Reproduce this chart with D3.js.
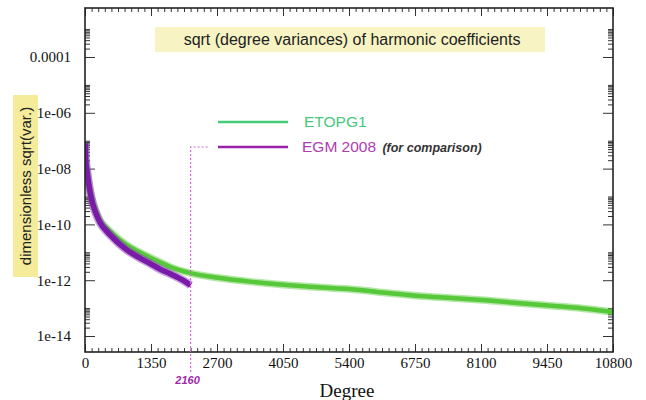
<!DOCTYPE html>
<html><head><meta charset="utf-8">
<script src="https://cdn.jsdelivr.net/npm/d3@7"></script>
<style>body{margin:0;background:#fff}svg{display:block}</style>
</head><body>
<svg id="c" width="646" height="400"></svg>
<script>
// ---- data ----
const etopoDeg = [2, 15, 41, 102, 164, 245, 307, 450, 573, 716, 859, 1100, 1350, 1534, 1740, 2160, 2760, 3375, 4400, 5400, 6200, 6850, 7500, 8200, 8900, 9600, 10300, 10800];
const etopoVal = [8e-8, 2.2e-8, 8.9e-9, 1.7e-9, 5.9e-10, 2.4e-10, 1.4e-10, 7.2e-11, 4.5e-11, 2.75e-11, 1.8e-11, 1.05e-11, 6.3e-12, 4.4e-12, 3.0e-12, 1.8e-12, 1.2e-12, 8.9e-13, 6.2e-13, 4.8e-13, 3.5e-13, 2.7e-13, 2.3e-13, 1.9e-13, 1.5e-13, 1.2e-13, 9.3e-14, 7.2e-14];
const egmDeg = [2, 15, 41, 102, 164, 245, 307, 450, 573, 716, 859, 1100, 1350, 1534, 1740, 2000, 2160];
const egmVal = [8e-8, 2.0e-8, 8.0e-9, 1.5e-9, 5.0e-10, 2.0e-10, 1.17e-10, 5.5e-11, 3.3e-11, 1.9e-11, 1.2e-11, 6.6e-12, 3.8e-12, 2.5e-12, 1.7e-12, 1.0e-12, 6.6e-13];
const xTickValues = [0, 1350, 2700, 4050, 5400, 6750, 8100, 9450, 10800];
const yTickValues = [1e-14, 1e-12, 1e-10, 1e-8, 1e-6, 1e-4];
const yTickLabels = ["1e-14", "1e-12", "1e-10", "1e-08", "1e-06", "0.0001"];
const cutoffDegree = 2160;
const seriesNames = ["ETOPG1", "EGM 2008"];
const titleText = "sqrt (degree variances) of harmonic coefficients";
const yLabelText = "dimensionless sqrt(var.)";
const xLabelText = "Degree";

// ---- layout ----
const L = 85, R = 613, T = 8, B = 352;
const svg = d3.select("#c");
const x = d3.scaleLinear().domain([0, 10800]).range([L, R]);
const y = d3.scaleLog().domain([Math.pow(10, -14.573), Math.pow(10, -2.244)]).range([B, T]);

const serif = "'Liberation Serif','Times New Roman',serif";
const sans = "'Liberation Sans',Arial,sans-serif";

// title box
svg.append("rect").attr("x", 155).attr("y", 27).attr("width", 390).attr("height", 25).attr("fill", "#f7f3c2");
svg.append("text").attr("x", 352).attr("y", 45).attr("text-anchor", "middle")
  .attr("font-family", sans).attr("font-size", 16).attr("fill", "#222").text(titleText);

// y label box
svg.append("rect").attr("x", 13).attr("y", 95).attr("width", 25).attr("height", 182).attr("fill", "#f4ec9a");
svg.append("text").attr("transform", "translate(31,186) rotate(-90)").attr("text-anchor", "middle")
  .attr("font-family", sans).attr("font-size", 15).attr("fill", "#222").text(yLabelText);

// minor ticks
const xMinor = d3.range(0, 10801, 135).filter(d => d % 1350 !== 0);
const yMinor = [];
[-14, -12, -10, -8, -6, -4].forEach(k => { for (let m = 2; m <= 10; m++) yMinor.push(m * Math.pow(10, k)); });
const yMinorIn = yMinor.filter(v => y(v) >= T && y(v) <= B);

function styleAxis(g) {
  g.select(".domain").remove();
  g.selectAll("line").attr("stroke", "#333").attr("stroke-width", 1);
}
// bottom
svg.append("g").attr("transform", `translate(0,${B})`).call(d3.axisBottom(x).tickValues(xMinor).tickSize(-4).tickFormat("")).call(styleAxis);
svg.append("g").attr("transform", `translate(0,${B})`).call(d3.axisBottom(x).tickValues(xTickValues).tickSize(-8).tickPadding(5).tickFormat(d3.format("d")))
  .call(styleAxis).call(g => g.selectAll("text").attr("font-family", serif).attr("font-size", 15).attr("fill", "#111"));
// top
svg.append("g").attr("transform", `translate(0,${T})`).call(d3.axisTop(x).tickValues(xMinor).tickSize(-4).tickFormat("")).call(styleAxis);
svg.append("g").attr("transform", `translate(0,${T})`).call(d3.axisTop(x).tickValues(xTickValues).tickSize(-8).tickFormat("")).call(styleAxis);
// left
svg.append("g").attr("transform", `translate(${L},0)`).call(d3.axisLeft(y).tickValues(yMinorIn).tickSize(-5).tickFormat("")).call(styleAxis);
svg.append("g").attr("transform", `translate(${L},0)`).call(d3.axisLeft(y).tickValues(yTickValues).tickSize(-10).tickPadding(14).tickFormat((d, i) => yTickLabels[i]))
  .call(styleAxis).call(g => g.selectAll("text").attr("font-family", serif).attr("font-size", 15).attr("fill", "#111"));
// right
svg.append("g").attr("transform", `translate(${R},0)`).call(d3.axisRight(y).tickValues(yMinorIn).tickSize(-5).tickFormat("")).call(styleAxis);
svg.append("g").attr("transform", `translate(${R},0)`).call(d3.axisRight(y).tickValues(yTickValues).tickSize(-10).tickFormat("")).call(styleAxis);

// series
const line = d3.line().x(d => x(d[0])).y(d => y(d[1])).curve(d3.curveMonotoneX);
svg.append("clipPath").attr("id", "pc").append("rect").attr("x", L).attr("y", T).attr("width", R - L).attr("height", B - T);
const plot = svg.append("g").attr("clip-path", "url(#pc)");
const gData = etopoDeg.map((d, i) => [d, etopoVal[i]]);
const pData = egmDeg.map((d, i) => [d, egmVal[i]]);
plot.append("path").datum(gData).attr("d", line).attr("fill", "none").attr("stroke", "#5ccb3e").attr("stroke-opacity", 0.45).attr("stroke-width", 7.5);
plot.append("path").datum(gData).attr("d", line).attr("fill", "none").attr("stroke", "#56c83a").attr("stroke-width", 4.5);
plot.append("path").datum(pData).attr("d", line).attr("fill", "none").attr("stroke", "#8a2cbc").attr("stroke-opacity", 0.45).attr("stroke-width", 8.5);
plot.append("path").datum(pData).attr("d", line).attr("fill", "none").attr("stroke", "#7a1aa8").attr("stroke-width", 5.5);

// frame
svg.append("rect").attr("x", L).attr("y", T).attr("width", R - L).attr("height", B - T)
  .attr("fill", "none").attr("stroke", "#222").attr("stroke-width", 1.6);

// legend
const legY1 = 122, legY2 = 147;
svg.append("line").attr("x1", 218).attr("x2", 288).attr("y1", legY1).attr("y2", legY1).attr("stroke", "#46cc78").attr("stroke-width", 2.5);
svg.append("line").attr("x1", 218).attr("x2", 288).attr("y1", legY2).attr("y2", legY2).attr("stroke", "#9a22a8").attr("stroke-width", 2.5);
svg.append("text").attr("x", 304).attr("y", legY1 + 5).attr("font-family", sans).attr("font-size", 15.5).attr("fill", "#46c87a").text(seriesNames[0]);
const t2 = svg.append("text").attr("x", 302).attr("y", legY2 + 5).attr("font-family", sans).attr("font-size", 15.5).attr("fill", "#b03cb0");
t2.append("tspan").text(seriesNames[1] + " ");
t2.append("tspan").attr("font-size", 12.5).attr("font-style", "italic").attr("font-weight", "bold").attr("fill", "#333").attr("dx", 2).text("(for comparison)");

// cutoff dotted marker
const xc = x(cutoffDegree);
svg.append("path").attr("d", `M${xc},372 V${legY2} H${209}`)
  .attr("fill", "none").attr("stroke", "#d468d4").attr("stroke-width", 1.2).attr("stroke-dasharray", "2,2");
svg.append("text").attr("x", xc - 3).attr("y", 384).attr("text-anchor", "middle").attr("font-family", sans)
  .attr("font-size", 11).attr("font-style", "italic").attr("font-weight", "bold").attr("fill", "#a028a8").text(String(cutoffDegree));

// x label
svg.append("text").attr("x", 347).attr("y", 397).attr("text-anchor", "middle").attr("font-family", serif)
  .attr("font-size", 19).attr("fill", "#111").text(xLabelText);
</script>
</body></html>
